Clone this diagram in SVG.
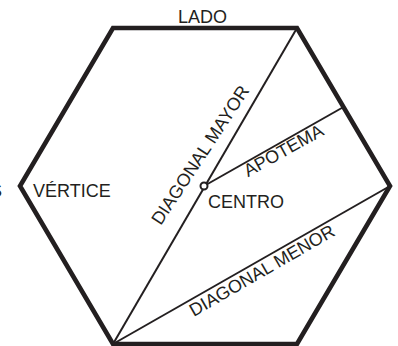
<svg xmlns="http://www.w3.org/2000/svg" width="398" height="346" viewBox="0 0 398 346">
<style>
.lbl{font-family:"Liberation Sans",Arial,Helvetica,sans-serif;font-size:18px;fill:#231f20}
.edge{fill:none;stroke:#231f20;stroke-width:4.6;stroke-linejoin:miter;stroke-miterlimit:10}
.thin{fill:none;stroke:#231f20;stroke-width:2}
</style>
<rect width="398" height="346" fill="#fff"/>
<g id="hexagon">
<polygon class="edge" points="113,28 297,28 390,186 297,344 113,344 20,186"/>
</g>
<g id="connectors">
<line class="thin" x1="297" y1="28" x2="113" y2="344"/>
<line class="thin" x1="204" y1="186" x2="343.5" y2="107"/>
<line class="thin" x1="113" y1="344" x2="390" y2="186"/>
</g>
<g id="centro">
<circle cx="204" cy="186" r="3.5" fill="#fff" stroke="#231f20" stroke-width="2"/>
<text class="lbl" x="208" y="208">CENTRO</text>
</g>
<g id="lado"><text class="lbl" x="178" y="23">LADO</text></g>
<g id="vertice"><text class="lbl" x="33" y="197">VÉRTICE</text></g>
<g id="cut"><text class="lbl" x="-10" y="197">S</text></g>
<g id="diag-mayor"><text class="lbl" text-anchor="middle" transform="translate(205.3,158.4) rotate(-56.6)">DIAGONAL MAYOR</text></g>
<g id="apotema"><text class="lbl" text-anchor="middle" transform="translate(286.4,155.8) rotate(-29)">APOTEMA</text></g>
<g id="diag-menor"><text class="lbl" text-anchor="middle" transform="translate(265,275.8) rotate(-30)">DIAGONAL MENOR</text></g>
</svg>
